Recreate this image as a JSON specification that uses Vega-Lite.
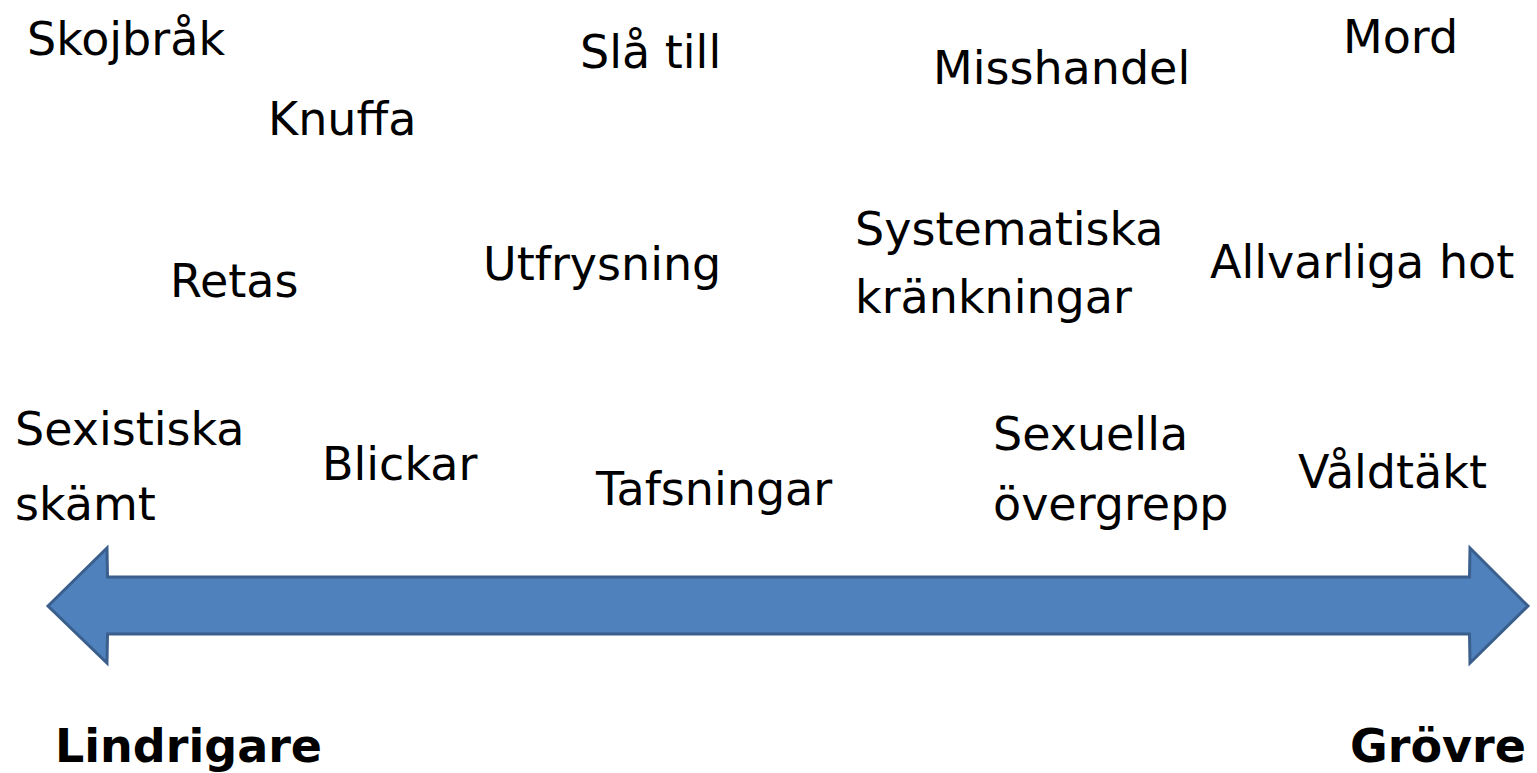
{
  "$schema": "https://vega.github.io/schema/vega-lite/v6.json",
  "width": 1537,
  "height": 773,
  "autosize": {"type": "fit", "contains": "padding"},
  "padding": 0,
  "background": "white",
  "config": {"view": {"stroke": null}},
  "datasets": {
    "arrow": [
      {"x": 48, "top": 606, "bottom": 606},
      {"x": 107, "top": 548, "bottom": 663},
      {"x": 107.5, "top": 577, "bottom": 634},
      {"x": 1469.5, "top": 577, "bottom": 634},
      {"x": 1470, "top": 548, "bottom": 663},
      {"x": 1528, "top": 606, "bottom": 606}
    ],
    "labels": [
      {"label": "Skojbråk", "x": 27, "y": 55, "kind": "term"},
      {"label": "Knuffa", "x": 268, "y": 135, "kind": "term"},
      {"label": "Slå till", "x": 580, "y": 68, "kind": "term"},
      {"label": "Misshandel", "x": 933, "y": 84, "kind": "term"},
      {"label": "Mord", "x": 1343, "y": 53, "kind": "term"},
      {"label": "Retas", "x": 170, "y": 297, "kind": "term"},
      {"label": "Utfrysning", "x": 483, "y": 280, "kind": "term"},
      {"label": "Systematiska", "x": 855, "y": 245, "kind": "term"},
      {"label": "kränkningar", "x": 855, "y": 313, "kind": "term"},
      {"label": "Allvarliga hot", "x": 1210, "y": 278, "kind": "term"},
      {"label": "Sexistiska", "x": 15, "y": 445, "kind": "term"},
      {"label": "skämt", "x": 15, "y": 520, "kind": "term"},
      {"label": "Blickar", "x": 322, "y": 480, "kind": "term"},
      {"label": "Tafsningar", "x": 596, "y": 505, "kind": "term"},
      {"label": "Sexuella", "x": 993, "y": 450, "kind": "term"},
      {"label": "övergrepp", "x": 993, "y": 520, "kind": "term"},
      {"label": "Våldtäkt", "x": 1298, "y": 488, "kind": "term"},
      {"label": "Lindrigare", "x": 55, "y": 762, "kind": "end"},
      {"label": "Grövre", "x": 1350, "y": 762, "kind": "end"}
    ]
  },
  "layer": [
    {
      "data": {"name": "arrow"},
      "mark": {"type": "area", "fill": "#4f81bd", "stroke": "#3a5f8c", "strokeWidth": 3, "strokeJoin": "miter", "orient": "vertical"},
      "encoding": {
        "x": {"field": "x", "type": "quantitative", "scale": {"domain": [0, 1537], "nice": false, "zero": false}, "axis": null},
        "y": {"field": "top", "type": "quantitative", "scale": {"domain": [0, 773], "nice": false, "zero": false, "reverse": true}, "axis": null},
        "y2": {"field": "bottom"}
      }
    },
    {
      "data": {"name": "labels"},
      "transform": [{"filter": "datum.kind === 'term'"}],
      "mark": {"type": "text", "align": "left", "baseline": "alphabetic", "font": "DejaVu Sans", "fontSize": 46, "color": "#000000"},
      "encoding": {
        "x": {"field": "x", "type": "quantitative", "scale": {"domain": [0, 1537], "nice": false, "zero": false}, "axis": null},
        "y": {"field": "y", "type": "quantitative", "scale": {"domain": [0, 773], "nice": false, "zero": false, "reverse": true}, "axis": null},
        "text": {"field": "label"}
      }
    },
    {
      "data": {"name": "labels"},
      "transform": [{"filter": "datum.kind === 'end'"}],
      "mark": {"type": "text", "align": "left", "baseline": "alphabetic", "font": "DejaVu Sans", "fontSize": 46, "fontWeight": "bold", "color": "#000000"},
      "encoding": {
        "x": {"field": "x", "type": "quantitative", "scale": {"domain": [0, 1537], "nice": false, "zero": false}, "axis": null},
        "y": {"field": "y", "type": "quantitative", "scale": {"domain": [0, 773], "nice": false, "zero": false, "reverse": true}, "axis": null},
        "text": {"field": "label"}
      }
    }
  ]
}
